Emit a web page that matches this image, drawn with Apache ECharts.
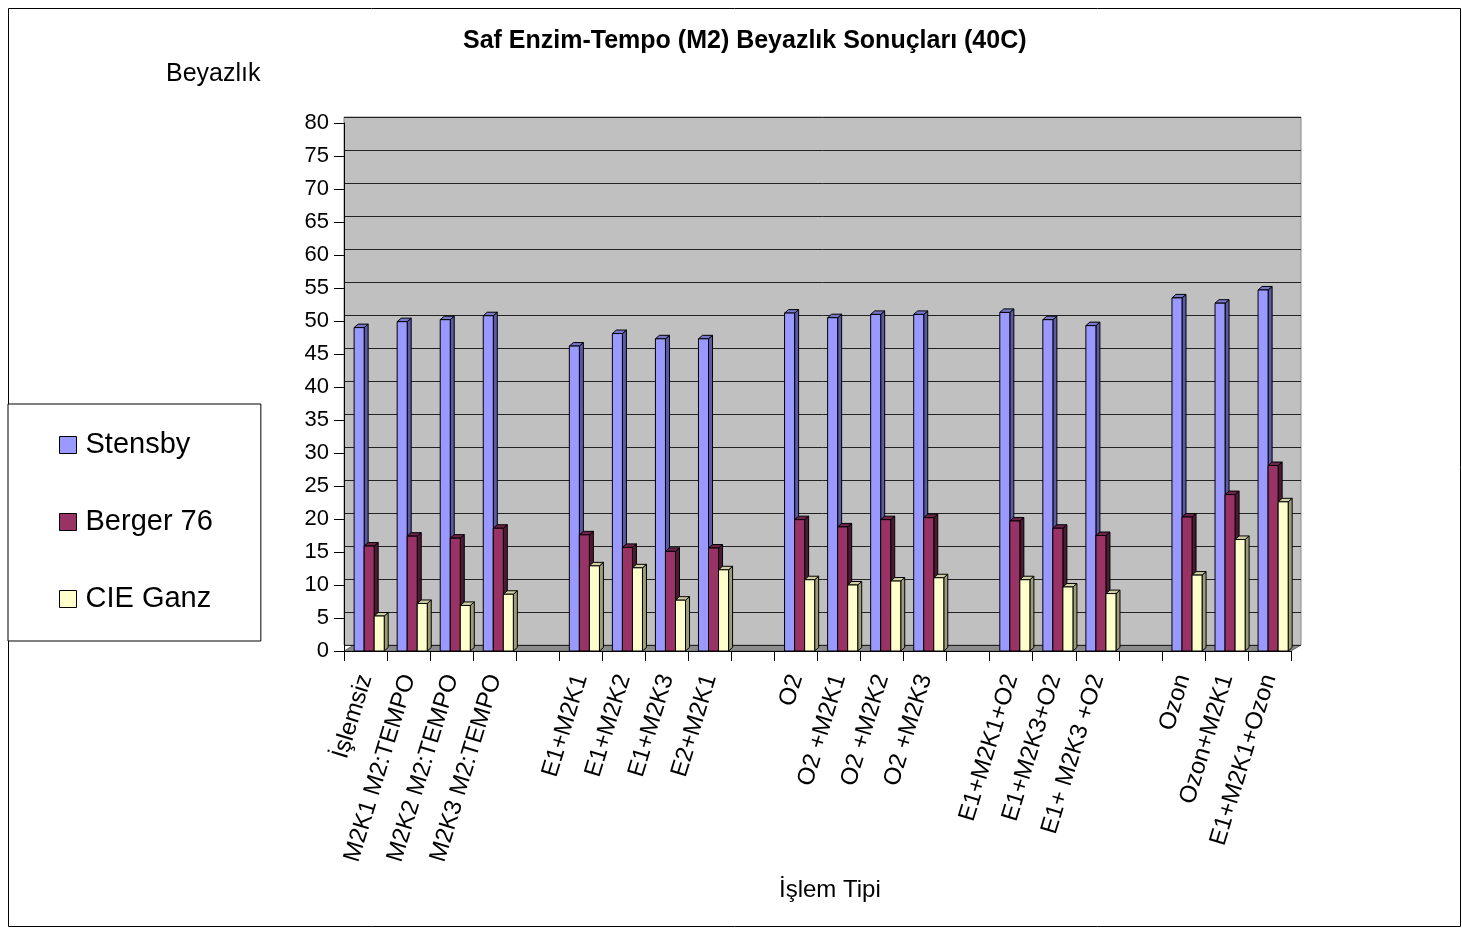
<!DOCTYPE html>
<html>
<head>
<meta charset="utf-8">
<script src="https://cdn.jsdelivr.net/npm/echarts@6/dist/echarts.min.js"></script>
<style>html,body{margin:0;padding:0;background:#fff}#c{width:1462px;height:929px}</style>
</head>
<body>
<div id="c"></div>
<script>
const categories = ['İşlemsiz','M2K1 M2:TEMPO','M2K2 M2:TEMPO','M2K3 M2:TEMPO',' ',
  'E1+M2K1','E1+M2K2','E1+M2K3','E2+M2K1','  ',
  'O2','O2 +M2K1','O2 +M2K2','O2 +M2K3','   ',
  'E1+M2K1+O2','E1+M2K3+O2','E1+ M2K3 +O2','    ',
  'Ozon','Ozon+M2K1','E1+M2K1+Ozon'];
const stensby = [49.0,49.9,50.2,50.8,null,46.2,48.1,47.3,47.3,null,51.2,50.5,51.0,51.0,null,51.3,50.2,49.3,null,53.5,52.7,54.7];
const berger  = [15.9,17.4,17.1,18.6,null,17.6,15.7,15.1,15.6,null,19.9,18.8,19.9,20.2,null,19.7,18.6,17.5,null,20.3,23.7,28.1];
const cie     = [5.3,7.2,6.9,8.6,null,12.9,12.6,7.7,12.3,null,10.8,10.0,10.6,11.1,null,10.8,9.7,8.7,null,11.5,16.9,22.6];
const seriesNames = ['Stensby','Berger 76','CIE Ganz'];
const yTicks = {min:0, max:80, interval:5};

const palettes = [
  {front:'#9999FF', side:'#5a5aa6', top:'#7777cc'},
  {front:'#993366', side:'#4d1a33', top:'#6e2449'},
  {front:'#FFFFCC', side:'#9c9c78', top:'#d0d0a4'}
];

function toData(arr){ const out=[]; arr.forEach((v,i)=>{ if(v!==null) out.push([i,v]); }); return out; }

function makeRender(idx){
  const pal = palettes[idx];
  return function(params, api){
    const cat = api.value(0), v = api.value(1);
    const p0 = api.coord([cat, 0]);
    const p1 = api.coord([cat, v]);
    const band = api.size([1,0])[0];
    const w = band*0.233;
    const left = p0[0] - band/2 + band*0.235 + idx*w;
    const dx = 4, dy = -3.5;
    const yb = p0[1], yt = p1[1];
    return {type:'group', children:[
      {type:'polygon', shape:{points:[[left+w,yt],[left+w+dx,yt+dy],[left+w+dx,yb+dy],[left+w,yb]]},
        style:{fill:pal.side, stroke:'#000', lineWidth:1}},
      {type:'polygon', shape:{points:[[left,yt],[left+dx,yt+dy],[left+w+dx,yt+dy],[left+w,yt]]},
        style:{fill:pal.top, stroke:'#000', lineWidth:1}},
      {type:'rect', shape:{x:left, y:yt, width:w, height:yb-yt},
        style:{fill:pal.front, stroke:'#000', lineWidth:1}}
    ]};
  };
}

const allValues = [stensby, berger, cie];
const chart = echarts.init(document.getElementById('c'), null, {renderer:'canvas'});
const font = 'Arial, "Liberation Sans", sans-serif';

chart.setOption({
  backgroundColor:'#fff',
  animation:false,
  textStyle:{fontFamily:font},
  title:[
    {text:'Saf Enzim-Tempo (M2) Beyazlık Sonuçları (40C)', left:463, top:29, padding:0,
      textStyle:{fontSize:25, fontWeight:'bold', color:'#000', fontFamily:font}},
    {text:'Beyazlık', left:166, top:62, padding:0,
      textStyle:{fontSize:25, fontWeight:'normal', color:'#000', fontFamily:font}},
    {text:'İşlem Tipi', left:779, top:878, padding:0,
      textStyle:{fontSize:24, fontWeight:'normal', color:'#000', fontFamily:font}}
  ],
  legend:{
    orient:'vertical', left:8, top:404,
    data:seriesNames, icon:'rect', itemWidth:17, itemHeight:17,
    itemGap:47, padding:[26,48,27,51],
    backgroundColor:'#fff', borderColor:'#000', borderWidth:1,
    textStyle:{fontSize:29, color:'#000', lineHeight:30, fontFamily:font, padding:[0,0,0,4]},
    itemStyle:{borderColor:'#000', borderWidth:1}
  },
  graphic:[
    {type:'rect', shape:{x:8.5, y:8.5, width:1452, height:918}, style:{fill:null, stroke:'#000', lineWidth:1}, silent:true, z:-10},
    {type:'polygon', shape:{points:[[344,651],[354,645],[1301,645],[1291,651]]}, style:{fill:'#8c8c8c', stroke:'#666', lineWidth:1}, silent:true, z:-5}
  ],
  grid:[
    {left:344, top:123, width:947, height:528, show:false},
    {left:344, top:117, width:957, height:528, show:true, backgroundColor:'#c0c0c0', borderWidth:1, borderColor:'#888'}
  ],
  xAxis:[
    {type:'category', gridIndex:0, data:categories, boundaryGap:true,
      axisLine:{show:true, lineStyle:{color:'#000', width:1}},
      axisTick:{show:true, interval:0, length:10, lineStyle:{color:'#000'}},
      axisLabel:{interval:0, rotate:73, fontSize:24, color:'#000', margin:24, fontFamily:font},
      splitLine:{show:false}},
    {type:'value', gridIndex:1, min:0, max:1, show:false}
  ],
  yAxis:[
    {type:'value', gridIndex:0, min:yTicks.min, max:yTicks.max, interval:yTicks.interval,
      axisLine:{show:true, lineStyle:{color:'#000', width:1}},
      axisTick:{show:true, length:10, lineStyle:{color:'#000'}},
      axisLabel:{fontSize:22, color:'#000', margin:15, fontFamily:font},
      splitLine:{show:false}},
    {type:'value', gridIndex:1, min:yTicks.min, max:yTicks.max, interval:yTicks.interval,
      axisLine:{show:false}, axisTick:{show:false}, axisLabel:{show:false},
      splitLine:{show:true, lineStyle:{color:'#222', width:1}}}
  ],
  series: seriesNames.map((name, idx) => ({
    name:name, type:'custom', xAxisIndex:0, yAxisIndex:0,
    renderItem: makeRender(idx),
    itemStyle:{color:palettes[idx].front, borderColor:'#000', borderWidth:1},
    data: toData(allValues[idx]),
    encode:{x:0, y:1},
    z:10+idx
  }))
});
</script>
</body>
</html>
